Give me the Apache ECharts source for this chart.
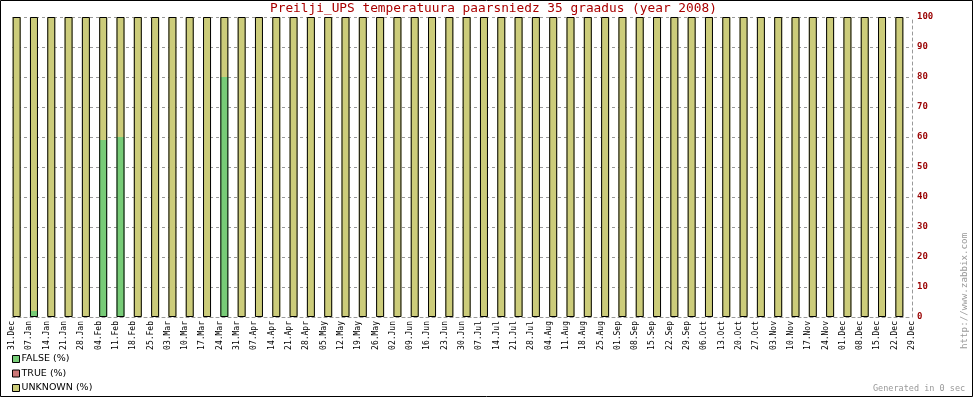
<!DOCTYPE html>
<html>
<head>
<meta charset="utf-8">
<script src="https://cdn.jsdelivr.net/npm/echarts@6/dist/echarts.min.js"></script>
<style>
  html, body { margin: 0; padding: 0; background: #fff; }
  #chart { width: 973px; height: 397px; }
</style>
</head>
<body>
<div id="chart"></div>
<script>
// week starts (tick labels), last one closes the period
var weekLabels = ["31.Dec", "07.Jan", "14.Jan", "21.Jan", "28.Jan", "04.Feb", "11.Feb", "18.Feb", "25.Feb",
  "03.Mar", "10.Mar", "17.Mar", "24.Mar", "31.Mar", "07.Apr", "14.Apr", "21.Apr", "28.Apr", "05.May",
  "12.May", "19.May", "26.May", "02.Jun", "09.Jun", "16.Jun", "23.Jun", "30.Jun", "07.Jul", "14.Jul",
  "21.Jul", "28.Jul", "04.Aug", "11.Aug", "18.Aug", "25.Aug", "01.Sep", "08.Sep", "15.Sep", "22.Sep",
  "29.Sep", "06.Oct", "13.Oct", "20.Oct", "27.Oct", "03.Nov", "10.Nov", "17.Nov", "24.Nov", "01.Dec",
  "08.Dec", "15.Dec", "22.Dec", "29.Dec"];
// one bar per week
var weeks = weekLabels.slice(0, 52);

var falsePct = [0, 2, 0, 0, 0, 59, 60, 0, 0, 0, 0, 0, 80, 0, 0, 0, 0, 0, 0, 0,
  0, 0, 0, 0, 0, 0, 0, 0, 0, 0, 0, 0, 0, 0, 0, 0, 0, 0, 0, 0,
  0, 0, 0, 0, 0, 0, 0, 0, 0, 0, 0, 0];
var truePct = weeks.map(function () { return 0; });
var unknownPct = [100, 98, 100, 100, 100, 41, 40, 100, 100, 100, 100, 100, 20, 100, 100, 100, 100, 100, 100, 100,
  100, 100, 100, 100, 100, 100, 100, 100, 100, 100, 100, 100, 100, 100, 100, 100, 100, 100, 100, 100,
  100, 100, 100, 100, 100, 100, 100, 100, 100, 100, 100, 100];

var yTicks = [0, 10, 20, 30, 40, 50, 60, 70, 80, 90, 100];

var mono = "DejaVu Sans Mono";
var chart = echarts.init(document.getElementById("chart"));

// whole-bar height, used only for the black outline around each stack
var totalPct = weeks.map(function (w, i) { return falsePct[i] + truePct[i] + unknownPct[i]; });
var empty = weeks.map(function () { return "-"; });

function barSeries(name, data, color) {
  return {
    name: name,
    type: "bar",
    stack: "pct",
    barWidth: 8,
    barGap: "0%",
    xAxisIndex: 0,
    data: data,
    itemStyle: { color: color }
  };
}

function hiddenCat(data) {
  return {
    type: "category",
    data: data,
    boundaryGap: true,
    axisLine: { show: false },
    axisTick: { show: false },
    axisLabel: { show: false }
  };
}

var option = {
  animation: false,
  backgroundColor: "#fff",
  title: {
    text: "Preilji_UPS temperatuura paarsniedz 35 graadus (year 2008)",
    left: 265,
    top: -3,
    textStyle: { fontFamily: mono, fontSize: 12.8, fontWeight: "normal", color: "#aa0000" }
  },
  legend: {
    orient: "vertical",
    left: 12,
    top: 354,
    padding: 0,
    height: 60,
    icon: "rect",
    itemWidth: 7,
    itemHeight: 7,
    itemGap: 4.5,
    itemStyle: { borderColor: "#000", borderWidth: 1 },
    data: ["FALSE (%)", "TRUE (%)", "UNKNOWN (%)"],
    textStyle: { fontFamily: "DejaVu Sans", fontSize: 9.5, color: "#000", padding: [0, 0, 0, -3] }
  },
  grid: { left: 12, right: 61, top: 17, bottom: 80 },
  xAxis: [
    {
      type: "category",
      data: weeks,
      boundaryGap: true,
      axisLine: { show: true, lineStyle: { color: "#999", type: [3, 3] } },
      axisTick: { show: false },
      axisLabel: { show: false }
    },
    {
      type: "category",
      data: weekLabels,
      boundaryGap: false,
      position: "bottom",
      axisLine: { show: false },
      axisTick: { show: false },
      axisLabel: {
        rotate: 90,
        interval: 0,
        margin: 4,
        fontFamily: mono,
        fontSize: 8,
        color: "#000"
      }
    },
    hiddenCat(weeks)
  ],
  yAxis: {
    type: "value",
    position: "right",
    min: 0,
    max: 100,
    interval: 10,
    axisLine: { show: true, lineStyle: { color: "#999", type: [3, 3] } },
    axisTick: { show: false },
    axisLabel: {
      margin: 5,
      fontFamily: mono,
      fontSize: 9,
      fontWeight: "bold",
      color: "#990000",
      formatter: function (v) { return yTicks.indexOf(v) >= 0 ? String(v) : ""; }
    },
    splitLine: { show: true, lineStyle: { color: "#999", type: [3, 3] } }
  },
  series: [
    barSeries("FALSE (%)", falsePct, "#77cc77"),
    barSeries("TRUE (%)", truePct, "#cc7777"),
    barSeries("UNKNOWN (%)", unknownPct, "#cccc7a"),
    {
      // empty neighbour keeps each bar at the left of its week
      name: "spacer",
      type: "bar",
      stack: "spacer",
      barWidth: 8,
      barGap: "0%",
      data: empty,
      silent: true
    },
    {
      name: "outline",
      type: "bar",
      xAxisIndex: 2,
      barWidth: 8,
      barGap: "0%",
      data: totalPct,
      itemStyle: { color: "rgba(0,0,0,0)", borderColor: "#000", borderWidth: 1 },
      silent: true,
      z: 3
    },
    {
      name: "spacer2",
      type: "bar",
      xAxisIndex: 2,
      barWidth: 8,
      barGap: "0%",
      data: empty,
      silent: true
    }
  ],
  graphic: [
    {
      type: "rect",
      shape: { x: 0.5, y: 0.5, width: 972, height: 396 },
      style: { fill: null, stroke: "#000", lineWidth: 1 },
      silent: true
    },
    {
      type: "text",
      x: 960,
      y: 349,
      rotation: Math.PI / 2,
      style: { text: "http://www.zabbix.com", fontFamily: mono, fontSize: 9.2, fill: "#999" },
      silent: true
    },
    {
      type: "text",
      x: 873,
      y: 384,
      style: { text: "Generated in 0 sec", fontFamily: mono, fontSize: 8.5, fill: "#999" },
      silent: true
    }
  ]
};

chart.setOption(option);
</script>
</body>
</html>
